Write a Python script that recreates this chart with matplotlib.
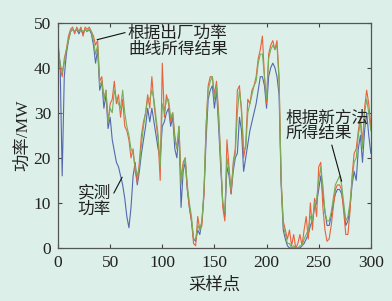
import numpy as np
import matplotlib
matplotlib.use("Agg")
import matplotlib.pyplot as plt

plt.rcParams['font.family'] = ['Liberation Serif', 'Noto Sans CJK SC']

# 采样点（每2个点读一次）
samples = np.arange(0, 301, 2)

# 实测功率
measured = [44, 41, 16, 38, 43, 46, 48, 48.5, 48, 48.5, 47.5,
            48.5, 47.5, 48.5, 48, 48.5, 47.5, 45, 41, 44, 35,
            37, 31, 34, 26.5, 29, 24, 21.5, 19, 18, 16,
            14, 11, 7, 4.5, 9, 16, 19, 14, 17, 21,
            24, 27, 31, 28, 31, 28, 25, 22, 20, 27,
            28, 30, 31, 27, 29, 22, 20, 26, 9, 17,
            19, 13, 9, 6, 2, 1.5, 4, 3, 6, 12,
            24, 33, 35, 36, 31, 35, 27, 18, 10, 7,
            18, 16, 12, 17, 20, 21, 29, 26, 17, 20,
            23, 26, 28, 30, 32, 35, 38, 38, 36, 31,
            38, 40, 41, 40, 38, 34, 14, 4, 2, 0.5,
            0, 0, 0, 0, 0, 0, 0.5, 1, 2, 3,
            5, 6, 9, 10, 13, 16, 12, 8, 5, 5,
            7, 10, 12, 13, 13, 12, 9, 5, 6, 9,
            14, 17, 15, 22, 25, 19, 26, 30, 25, 21]

# 根据出厂功率曲线所得结果
factory = [46, 40, 38, 42, 44, 47, 48.5, 49, 47.5, 49, 48,
           49, 47, 49, 48.5, 49, 48, 47, 45, 46, 37,
           38, 33, 35, 28, 32, 33, 37, 32, 34, 29,
           33, 27, 26, 24, 20, 22, 17, 14.5, 19, 25,
           28, 30, 34, 31, 38, 32, 28, 24, 15, 41,
           29, 34, 32, 28, 30, 25, 22, 27, 15, 19,
           20, 13, 9, 6, 1, 0.5, 7, 4, 5, 12,
           27, 36, 38, 38, 34, 37, 30, 20, 9, 6,
           24, 18, 12, 19, 22, 35, 36, 30, 20, 23,
           33, 32, 35, 36, 38, 42, 44, 47, 38, 32,
           43, 45, 46, 44, 46, 38, 15, 6, 4, 2,
           4, 0.5, 3, 0, 1, 3, 0.5, 4, 7, 2,
           10, 4, 11, 7, 18, 19, 9, 4, 1.5, 2,
           5, 9, 13, 14, 14, 13, 8, 3, 3, 8,
           16, 21, 22, 26, 29, 23, 31, 35, 32, 27]

# 根据新方法所得结果
new_method = [45, 41, 39, 41, 44, 46, 48, 48.5, 48, 48.5, 48,
              48.5, 48, 48.5, 48, 48.5, 48, 46, 43, 45, 36,
              37, 33, 35, 28, 31, 30, 35, 33, 32, 31,
              35, 30, 27, 25, 22, 21, 18, 16, 18, 23,
              27, 30, 33, 33, 35, 33, 29, 25, 18, 32,
              30, 33, 33, 29, 30, 24, 22, 27, 14, 18,
              20, 14, 10, 7, 2, 2, 5, 4, 6, 13,
              27, 35, 37, 38, 33, 36, 29, 20, 10, 8,
              20, 17, 13, 18, 21, 30, 35, 31, 22, 22,
              30, 32, 34, 36, 37, 41, 43, 43, 38, 33,
              42, 44, 45, 44, 45, 37, 15, 5, 3, 1,
              1, 0, 0.5, 0, 0, 0.5, 0.5, 2, 3, 4,
              7, 6, 10, 11, 15, 18, 14, 8, 6, 6,
              8, 11, 14, 15, 16, 14, 10, 6, 7, 10,
              15, 19, 20, 25, 28, 22, 30, 33, 30, 26]

fig = plt.figure(figsize=(3.92, 3.01), dpi=100)
bg = '#dcefe9'
fig.patch.set_facecolor(bg)
ax = fig.add_axes([0.148, 0.176, 0.798, 0.749])
ax.set_facecolor(bg)

ax.plot(samples, measured, color='#5468b0', lw=0.8)
ax.plot(samples, factory, color='#e8623a', lw=0.8)
ax.plot(samples, new_method, color='#78ad5a', lw=0.8)

ax.set_xlim(0, 300)
ax.set_ylim(0, 50)
ax.set_xticks([0, 50, 100, 150, 200, 250, 300])
ax.set_yticks([0, 10, 20, 30, 40, 50])
ax.tick_params(direction='in', top=True, right=True, labelsize=12.5, length=3,
               pad=5, color='#444444', labelcolor='#222222')
for sp in ax.spines.values():
    sp.set_color('#555555')
    sp.set_linewidth(0.9)

ax.set_xlabel('采样点', fontsize=12.5, color='#222222', labelpad=5)
ax.set_ylabel('功率/MW', fontsize=12.5, color='#222222', labelpad=2)

# 标注
ax.annotate('根据出厂功率\n曲线所得结果', xy=(37.5, 46.2), xytext=(67, 45.8),
            fontsize=12, color='#222222', va='center', ha='left', linespacing=1.0,
            arrowprops=dict(arrowstyle='-', color='#111111', lw=0.8,
                            shrinkA=0, shrinkB=0, relpos=(0, 0.8)))
ax.annotate('根据新方法\n所得结果', xy=(272, 14.8), xytext=(218, 27.0),
            fontsize=12, color='#222222', va='center', ha='left', linespacing=1.0,
            arrowprops=dict(arrowstyle='-', color='#111111', lw=0.8,
                            shrinkA=0, shrinkB=0, relpos=(0.55, 0)))
ax.annotate('实测\n功率', xy=(61.5, 15.7), xytext=(19, 10.3),
            fontsize=12, color='#222222', va='center', ha='left', linespacing=1.0,
            arrowprops=dict(arrowstyle='-', color='#111111', lw=0.8,
                            shrinkA=0, shrinkB=0, relpos=(1.0, 0.6)))

fig.savefig('out.png', dpi=100, facecolor=bg)
